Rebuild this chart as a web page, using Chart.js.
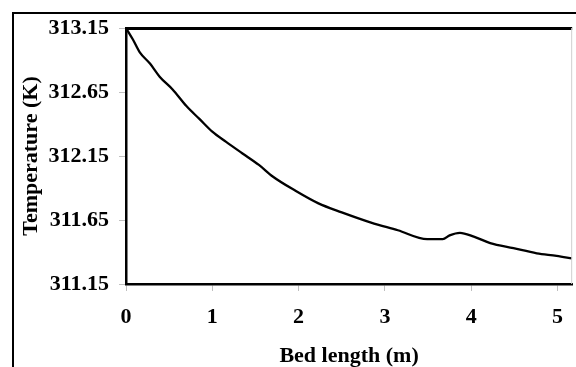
<!DOCTYPE html>
<html>
<head>
<meta charset="utf-8">
<script src="https://cdn.jsdelivr.net/npm/chart.js@4/dist/chart.umd.min.js"></script>
<style>
  html, body { margin: 0; padding: 0; background: #fff; }
  #wrap { position: relative; width: 576px; height: 367px; }
</style>
</head>
<body>
<div id="wrap"><canvas id="tempChart" width="576" height="367"></canvas></div>
<script>
(function () {
    'use strict';

    var FONT = "'Liberation Serif', 'Times New Roman', serif";

    // bed length (m) and temperature (K)
    var bedLength = [0, 0.08, 0.16, 0.28, 0.39, 0.54, 0.70, 0.85, 1.00, 1.16, 1.35, 1.54,
        1.70, 1.96, 2.23, 2.50, 2.84, 3.15, 3.49, 3.67, 3.75, 3.87, 4.03, 4.22, 4.49, 4.76, 4.99, 5.17];
    var temperature = [313.15, 313.06, 312.96, 312.87, 312.77, 312.67, 312.54, 312.44, 312.34, 312.26, 312.17, 312.08,
        311.99, 311.88, 311.78, 311.71, 311.63, 311.57, 311.50, 311.50, 311.53, 311.55, 311.52, 311.47, 311.43, 311.39, 311.37, 311.35];

    var xTicks = [0, 1, 2, 3, 4, 5];
    var yTicks = [311.15, 311.65, 312.15, 312.65, 313.15];

    var points = bedLength.map(function (x, i) {
        return { x: x, y: temperature[i] };
    });

    // outer frame and the plot box edges not drawn by the axes
    var framePlugin = {
        id: 'frame',
        afterDraw: function (chart) {
            var ctx = chart.ctx;
            var a = chart.chartArea;
            ctx.save();
            ctx.fillStyle = '#000';
            ctx.fillRect(12, 12, chart.width - 12, 2);
            ctx.fillRect(12, 12, 2, chart.height - 12);
            ctx.fillRect(a.left - 1, a.top - 1, a.right - a.left + 1, 3);
            ctx.fillStyle = '#cfcfcf';
            ctx.fillRect(a.right - 1, a.top, 1, a.bottom - a.top);
            ctx.restore();
        }
    };

    new Chart(document.getElementById('tempChart'), {
        type: 'line',
        data: {
            datasets: [{
                data: points,
                borderColor: '#000',
                borderWidth: 2.3,
                pointRadius: 0,
                cubicInterpolationMode: 'monotone',
                fill: false
            }]
        },
        options: {
            responsive: false,
            animation: false,
            layout: { padding: { left: 14, top: 28, right: 0, bottom: 0 } },
            plugins: {
                legend: { display: false },
                tooltip: { enabled: false }
            },
            scales: {
                x: {
                    type: 'linear',
                    min: 0,
                    max: 5.17,
                    afterBuildTicks: function (scale) {
                        scale.ticks = xTicks.map(function (v) { return { value: v }; });
                    },
                    afterFit: function (scale) { scale.height = 83; },
                    ticks: {
                        font: { family: FONT, size: 22, weight: 'bold' },
                        color: '#000',
                        padding: 13,
                        maxRotation: 0
                    },
                    grid: { drawOnChartArea: false, tickLength: 7, color: '#c0c0c0' },
                    border: { display: true, color: '#000', width: 2.5 },
                    title: {
                        display: true,
                        text: 'Bed length (m)',
                        font: { family: FONT, size: 22, weight: 'bold', lineHeight: 1 },
                        color: '#000',
                        padding: { top: -2, bottom: 0 }
                    }
                },
                y: {
                    min: 311.15,
                    max: 313.15,
                    afterBuildTicks: function (scale) {
                        scale.ticks = yTicks.map(function (v) { return { value: v }; });
                    },
                    afterFit: function (scale) { scale.width = 112; },
                    ticks: {
                        callback: function (v) { return v.toFixed(2); },
                        font: { family: FONT, size: 22, weight: 'bold' },
                        color: '#000',
                        padding: 10
                    },
                    grid: { drawOnChartArea: false, tickLength: 7, color: '#c0c0c0' },
                    border: { display: true, color: '#000', width: 2.5 },
                    title: {
                        display: true,
                        text: 'Temperature (K)',
                        font: { family: FONT, size: 22, weight: 'bold', lineHeight: 1 },
                        color: '#000',
                        padding: { top: 6, bottom: 0 }
                    }
                }
            }
        },
        plugins: [framePlugin]
    });
})();
</script>
</body>
</html>
